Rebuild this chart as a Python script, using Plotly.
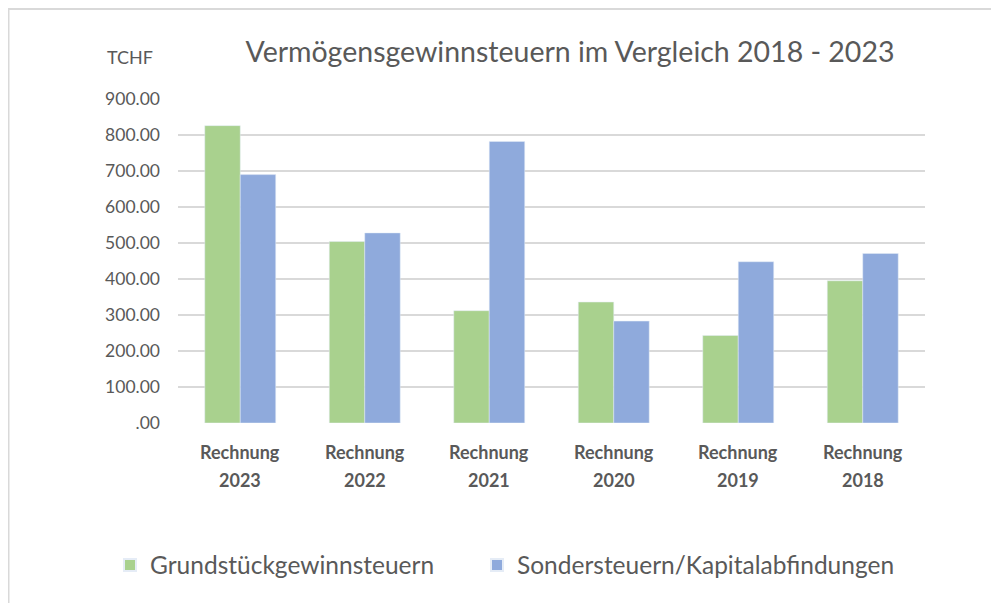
import plotly.graph_objects as go

categories = ["Rechnung 2023", "Rechnung 2022", "Rechnung 2021", "Rechnung 2020", "Rechnung 2019", "Rechnung 2018"]
label_top = ["Rechnung"] * 6
label_bottom = ["2023", "2022", "2021", "2020", "2019", "2018"]
grund = [826, 504, 312, 336, 243, 395]
sonder = [690, 528, 782, 283, 448, 471]
tick_vals = [0, 100, 200, 300, 400, 500, 600, 700, 800, 900]
tick_text = [".00", "100.00", "200.00", "300.00", "400.00", "500.00", "600.00", "700.00", "800.00", "900.00"]

FONT = "Lato"
GREY = "#595959"

fig = go.Figure()
fig.add_trace(go.Bar(x=categories, y=grund, name="Grundstückgewinnsteuern", marker_color="#a9d18e",
                     legend="legend", showlegend=True))
fig.add_trace(go.Bar(x=categories, y=sonder, name="Sondersteuern/Kapitalabfindungen", marker_color="#8faadc",
                     legend="legend2", showlegend=True))

OFF = 8  # page body margin
W, H = 999 - OFF, 603 - OFF
# plot area in screen (reference) pixels
L, R, T, B = 178, 925, 99, 423
pw, ph = R - L, B - T

def px(x):
    return (x - L) / pw

def py(y):
    return (B - y) / ph

annotations = []
for c, a, b in zip(categories, label_top, label_bottom):
    annotations.append(dict(x=c, xref="x", y=py(452), yref="paper", yanchor="middle", text="<b>%s</b>" % a,
                            showarrow=False, font=dict(family=FONT, size=18, color=GREY)))
    annotations.append(dict(x=c, xref="x", y=py(480), yref="paper", yanchor="middle", text="<b>%s</b>" % b,
                            showarrow=False, font=dict(family=FONT, size=18, color=GREY)))
annotations.append(dict(x=px(130), xref="paper", y=py(57), yref="paper", xanchor="center", yanchor="middle",
                        text="TCHF", showarrow=False, font=dict(family=FONT, size=18, color=GREY)))

legend_font = dict(family=FONT, size=24.5, color=GREY)

fig.update_layout(
    width=W, height=H,
    showlegend=True,
    margin=dict(l=L - OFF, r=999 - R, t=T - OFF, b=603 - B, pad=0),
    paper_bgcolor="white", plot_bgcolor="white",
    title=dict(text="Vermögensgewinnsteuern im Vergleich 2018 - 2023", xref="paper", x=px(570), xanchor="center",
               yref="container", y=1 - (52 - OFF) / H, yanchor="middle", font=dict(family=FONT, size=28.5, color=GREY)),
    barmode="group", bargap=0.43, bargroupgap=0,
    xaxis=dict(showticklabels=False, showgrid=False, zeroline=False, showline=False, fixedrange=True),
    yaxis=dict(range=[0, 900], tickvals=tick_vals, ticktext=tick_text, showgrid=True,
               gridcolor="#d9d9d9", gridwidth=1.5, zeroline=False, showline=False,
               ticklabelstandoff=17, tickfont=dict(family=FONT, size=17.5, color=GREY)),
    legend=dict(orientation="h", x=px(110), xanchor="left", y=py(565), yanchor="middle",
                font=legend_font, itemsizing="constant"),
    legend2=dict(orientation="h", x=px(477), xanchor="left", y=py(565), yanchor="middle",
                 font=legend_font, itemsizing="constant"),
    annotations=annotations,
    shapes=[
        dict(type="line", xref="paper", yref="paper", x0=px(8.5), x1=px(8.5), y0=py(9), y1=py(620),
             line=dict(color="#d9d9d9", width=2)),
        dict(type="line", xref="paper", yref="paper", x0=px(8), x1=px(1010), y0=py(9), y1=py(9),
             line=dict(color="#d9d9d9", width=2)),
    ],
)

fig.write_html("out.html")
